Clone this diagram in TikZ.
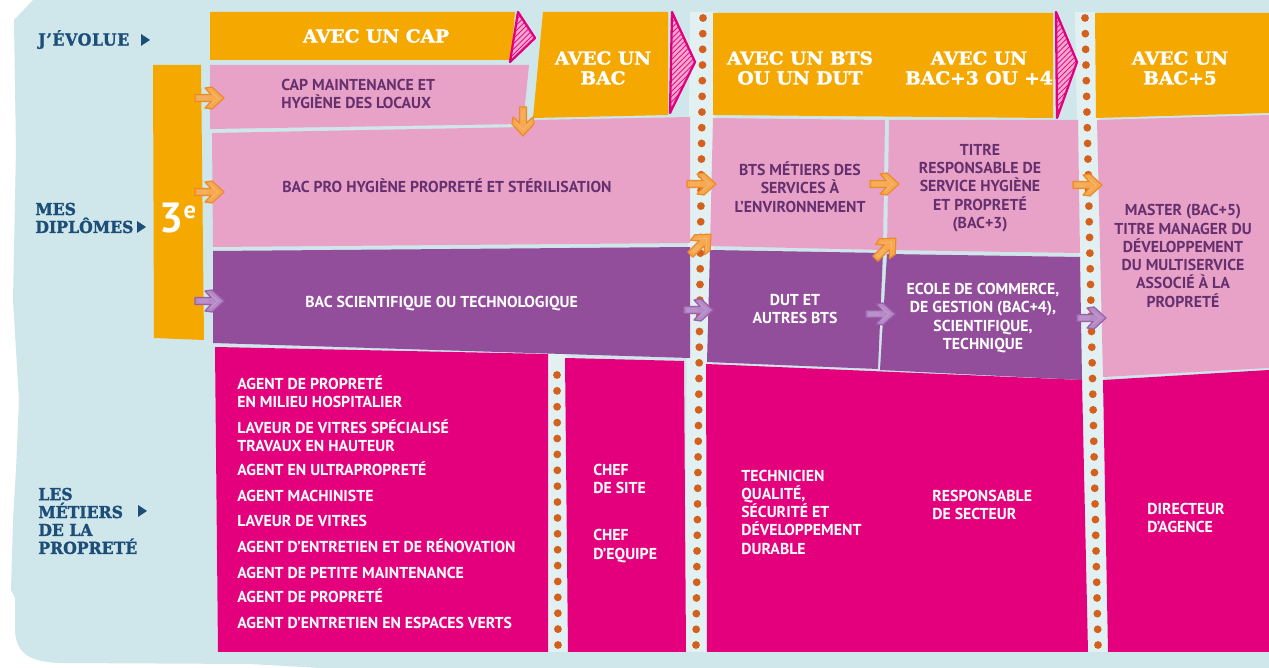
\documentclass[tikz,border=0pt]{standalone}
\usepackage{fontspec}
\setmainfont{PT Sans}[FakeStretch=1.0]
\newfontfamily\slabf{DejaVu Serif}[FakeStretch=1.04, BoldFeatures={FakeBold=1.6}]
\newfontfamily\labf{DejaVu Serif}[FakeStretch=0.95, BoldFeatures={FakeBold=1.6}]
\usetikzlibrary{patterns,calc}
\definecolor{bgblue}{HTML}{CFE7EB}
\definecolor{striplt}{HTML}{E2F0F2}
\definecolor{orangeC}{HTML}{F4A800}
\definecolor{pinkC}{HTML}{E8A2C7}
\definecolor{purpleC}{HTML}{924D9B}
\definecolor{magentaC}{HTML}{E4007D}
\definecolor{pinktext}{HTML}{66306F}
\definecolor{navyC}{HTML}{1C4E78}
\definecolor{dotC}{HTML}{D4601E}
\definecolor{arrO}{HTML}{F6A94E}
\definecolor{arrOd}{HTML}{EC8B2A}
\definecolor{arrP}{HTML}{B68AC6}
\definecolor{arrPd}{HTML}{9A60AA}
\definecolor{tripk}{HTML}{F3A6CF}
\newcommand\harrow[4]{\begin{scope}[shift={#1},rotate=#2]
  \filldraw[fill=#3,draw=#4,line width=0.7pt,line join=round]
  (-15,-3.5)--(1,-3.5)--(-5,-10)--(2,-11)--(14,0)--(2,11)--(-5,10)--(1,3.5)--(-15,3.5)--cycle;
  \draw[#4!60!white,line width=0.4pt] (-12,-1)--(-2,-1) (-12,1)--(-2,1) (0,-7)--(8,0)--(0,7);
\end{scope}}
\newcommand\tripath[3]{%
  \fill[tripk] #1--#2--#3--cycle;
  \fill[pattern=north east lines,pattern color=magentaC] #1--#2--#3--cycle;
  \draw[magentaC,line width=1.3pt,line join=round] #1--#2--#3--cycle;}
\newcommand\labtri[2]{\fill[navyC] (#1,#2-6)--(#1+9,#2)--(#1,#2+6)--cycle;}
\begin{document}
\begin{tikzpicture}[x=0.02cm,y=-0.02cm,
  body/.style={font=\fontsize{9}{10.4}\selectfont\bfseries, inner sep=0pt},
  single/.style={text height=6.3pt, text depth=0pt},
  head/.style={font=\slabf\fontsize{10.2}{11.3}\selectfont\bfseries, text=white, inner sep=0pt, align=center},
  lab/.style={font=\labf\fontsize{9.4}{10.2}\selectfont\bfseries, text=navyC, inner sep=0pt, align=left, anchor=west},
  onpink/.style={body, text=pinktext, align=center},
  onpurple/.style={body, text=white, align=center},
  onmag/.style={body, text=white, align=left, anchor=west}]
\useasboundingbox (0,0) rectangle (1269,668);
% background
\fill[white] (0,0) rectangle (1269,668);
\fill[bgblue] (33,0) -- (1269,0) -- (1269,668) -- (320,668) -- (250,664) -- (60,663)
  .. controls (25,662) and (16,650) .. (15,630) -- (15,598) -- (11,590) -- (13,520)
  -- (16,470) -- (19,400) -- (13,300) -- (16,150) -- (14,20) -- cycle;
% light strips
\fill[striplt] (690,12) -- (716,12) -- (709,652) -- (684,652) -- cycle;
\fill[striplt] (1075,12) -- (1097,12) -- (1110,652) -- (1086,652) -- cycle;
\fill[striplt] (546,352) -- (567,352) -- (570,652) -- (546,652) -- cycle;
% row 1 orange headers
\fill[orangeC] (210,12) -- (515,12) -- (511,60) -- (210,60) -- cycle;
\fill[orangeC] (543,12) -- (668,12) -- (668,115) -- (533,118) -- cycle;
\fill[orangeC] (713,13) -- (1053,13) -- (1053,118) -- (713,115) -- cycle;
\fill[orangeC] (1095,13) -- (1269,13) -- (1269,113) -- (1096,118) -- cycle;
\tripath{(518,12)}{(535,38)}{(510,62)}
\tripath{(672,12)}{(695,62)}{(670,113)}
\tripath{(1056,12)}{(1077,62)}{(1057,118)}
% 3e bar
\fill[orangeC] (153,65) -- (201,65) -- (204,340) -- (154,338) -- cycle;
% row 2 diplomas
\fill[pinkC] (210,65) -- (529,65) -- (523,124) -- (210,129) -- cycle;
\fill[pinkC] (212,133) -- (524,127) -- (534,120) -- (690,117) -- (690,243) -- (213,247) -- cycle;
\fill[purpleC] (213,251) -- (690,247) -- (690,358) -- (213,343) -- cycle;
\fill[pinkC] (713,118) -- (885,120) -- (883,250) -- (710,246) -- cycle;
\fill[pinkC] (889,120) -- (1078,120) -- (1080,253) -- (887,250) -- cycle;
\fill[purpleC] (710,250) -- (883,253) -- (878,369) -- (707,362) -- cycle;
\fill[purpleC] (887,254) -- (1080,257) -- (1082,380) -- (880,370) -- cycle;
\fill[pinkC] (1097,120) -- (1269,115) -- (1269,368) -- (1103,377) -- cycle;
% row 3 jobs
\fill[magentaC] (215,347) -- (548,354) -- (548,652) -- (218,652) -- cycle;
\fill[magentaC] (565,358) -- (684,361) -- (686,652) -- (568,652) -- cycle;
\fill[magentaC] (706,364) -- (1082,380) -- (1088,652) -- (707,652) -- cycle;
\fill[magentaC] (1103,380) -- (1269,370) -- (1269,652) -- (1108,652) -- cycle;
% dotted lines
\coordinate (d1a) at (557,375); \coordinate (d1b) at (558,645);
\coordinate (d2a) at (703,18); \coordinate (d2b) at (696,645);
\coordinate (d3a) at (1085,18); \coordinate (d3b) at (1098,645);
\foreach \i in {0,...,17} \fill[dotC] ($(d1a)!\i/17!(d1b)$) circle[radius=0.078cm];
\foreach \i in {0,...,40} \fill[dotC] ($(d2a)!\i/40!(d2b)$) circle[radius=0.078cm];
\foreach \i in {0,...,40} \fill[dotC] ($(d3a)!\i/40!(d3b)$) circle[radius=0.078cm];
% arrows
\harrow{(210,98)}{0}{arrO}{arrOd}
\harrow{(210,192)}{0}{arrO}{arrOd}
\harrow{(210,301)}{0}{arrP}{arrPd}
\harrow{(523,122)}{-90}{arrO}{arrOd}
\harrow{(702,184)}{0}{arrO}{arrOd}
\harrow{(701,244)}{45}{arrO}{arrOd}
\harrow{(699,310)}{0}{arrP}{arrPd}
\harrow{(885,184)}{0}{arrO}{arrOd}
\harrow{(886,248)}{45}{arrO}{arrOd}
\harrow{(881,314)}{0}{arrP}{arrPd}
\harrow{(1088,185)}{0}{arrO}{arrOd}
\harrow{(1092,318)}{0}{arrP}{arrPd}
% left labels
\node[lab, single] (levolue) at (38,40) {\addfontfeature{LetterSpace=4}J’ÉVOLUE};
\labtri{141}{40}
\node[lab] (ldipl) at (35,218) {MES\\DIPLÔMES};
\labtri{137}{227}
\node[lab] (lmet) at (38,521) {LES\\MÉTIERS\\DE LA\\PROPRETÉ};
\labtri{138}{511}
% 3e
\node[font=\fontsize{24}{24}\selectfont\bfseries, text=white, inner sep=0pt] (trois) at (178,218) {3\raisebox{8pt}{\fontsize{14}{14}\selectfont e}};
% headers
\node[head] (hcap) at (376,36) {AVEC UN CAP};
\node[head] (hbac) at (603,68) {AVEC UN\\BAC};
\node[head] (hbts) at (800,68) {AVEC UN BTS\\OU UN DUT};
\node[head] (hbac3) at (979,68) {AVEC UN\\BAC+3 OU +4};
\node[head] (hbac5) at (1180,68) {AVEC UN\\BAC+5};
% diploma texts
\node[onpink, align=left, anchor=west] (tcap) at (281,94) {CAP MAINTENANCE ET\\HYGIÈNE DES LOCAUX};
\node[onpink, single, anchor=west] (tbacpro) at (282,187) {BAC PRO HYGIÈNE PROPRETÉ ET STÉRILISATION};
\node[onpurple, single, anchor=west] (tbacsci) at (305,302) {BAC SCIENTIFIQUE OU TECHNOLOGIQUE};
\node[onpink] (tbts) at (800,187) {BTS MÉTIERS DES\\SERVICES À\\L’ENVIRONNEMENT};
\node[onpurple] (tdut) at (795,309) {DUT ET\\AUTRES BTS};
\node[onpink] (ttitre) at (980,188) {TITRE\\RESPONSABLE DE\\SERVICE HYGIÈNE\\ET PROPRETÉ\\(BAC+3)};
\node[onpurple] (tecole) at (983,318) {ECOLE DE COMMERCE,\\DE GESTION (BAC+4),\\SCIENTIFIQUE,\\TECHNIQUE};
\node[onpink] (tmaster) at (1183,256) {MASTER (BAC+5)\\TITRE MANAGER DU\\DÉVELOPPEMENT\\DU MULTISERVICE\\ASSOCIÉ À LA\\PROPRETÉ};
% jobs
\node[onmag] (j1) at (237,392) {AGENT DE PROPRETÉ\\EN MILIEU HOSPITALIER};
\node[onmag] (j2) at (237,436) {LAVEUR DE VITRES SPÉCIALISÉ\\TRAVAUX EN HAUTEUR};
\node[onmag, single] (j3) at (237,470) {AGENT EN ULTRAPROPRETÉ};
\node[onmag, single] (j4) at (237,496) {AGENT MACHINISTE};
\node[onmag, single] (j5) at (237,521) {LAVEUR DE VITRES};
\node[onmag, single] (j6) at (237,547) {AGENT D’ENTRETIEN ET DE RÉNOVATION};
\node[onmag, single] (j7) at (237,573) {AGENT DE PETITE MAINTENANCE};
\node[onmag, single] (j8) at (237,597) {AGENT DE PROPRETÉ};
\node[onmag, single] (j9) at (237,623) {AGENT D’ENTRETIEN EN ESPACES VERTS};
\node[onmag] (chef1) at (593,479) {CHEF\\DE SITE};
\node[onmag] (chef2) at (593,546) {CHEF\\D’EQUIPE};
\node[onmag] (tech) at (741,512) {TECHNICIEN\\QUALITÉ,\\SÉCURITÉ ET\\DÉVELOPPEMENT\\DURABLE};
\node[onmag] (resp) at (932,505) {RESPONSABLE\\DE SECTEUR};
\node[onmag] (dir) at (1147,518) {DIRECTEUR\\D’AGENCE};
\end{tikzpicture}
\end{document}
